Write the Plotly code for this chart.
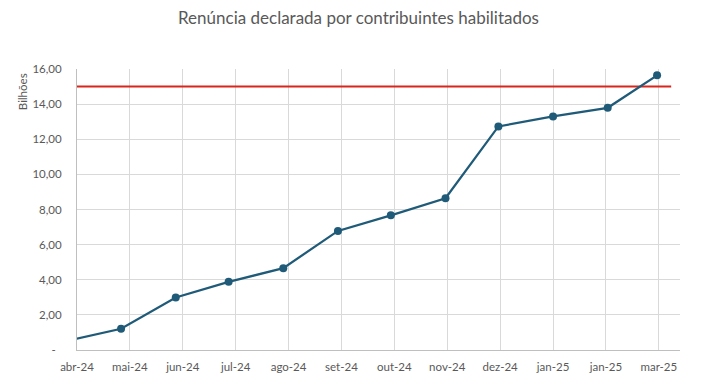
import datetime as dt
import plotly.graph_objects as go

# Data: month-end cumulative values (billions)
dates = ["2024-03-31", "2024-04-30", "2024-05-31", "2024-06-30", "2024-07-31",
         "2024-08-31", "2024-09-30", "2024-10-31", "2024-11-30", "2024-12-31",
         "2025-01-31", "2025-02-28"]
values = [0.53, 1.21, 2.99, 3.88, 4.66, 6.78, 7.67, 8.64, 12.73, 13.30, 13.79, 15.64]

limit_dates = ["2024-03-31", "2025-03-08"]
limit_values = [15.0, 15.0]

x_tick_labels = ["abr-24", "mai-24", "jun-24", "jul-24", "ago-24", "set-24",
                 "out-24", "nov-24", "dez-24", "jan-25", "jan-25", "mar-25"]
y_tick_vals = [0, 2, 4, 6, 8, 10, 12, 14, 16]
y_tick_labels = ["-  ", "2,00", "4,00", "6,00", "8,00", "10,00", "12,00", "14,00", "16,00"]

axis_start = dt.date(2024, 4, 5)
axis_end = dt.date(2025, 3, 13)
tick_step_days = 30
x_tick_vals = [(axis_start + dt.timedelta(days=tick_step_days * i)).isoformat()
               for i in range(len(x_tick_labels))]

FONT = "Lato"
GREY = "#595959"

fig = go.Figure()
fig.add_trace(go.Scatter(
    x=limit_dates, y=limit_values, mode="lines",
    line=dict(color="#D9261C", width=2), showlegend=False, hoverinfo="skip"))
fig.add_trace(go.Scatter(
    x=dates, y=values, mode="lines+markers",
    line=dict(color="#1F5B78", width=2.25),
    marker=dict(color="#1F5B78", size=8),
    showlegend=False))

# page body has an 8px default margin, so the figure is sized to fit 709x378 window
fig.update_layout(
    width=701, height=370,
    margin=dict(l=69, r=29, t=61, b=28, autoexpand=False),
    paper_bgcolor="white", plot_bgcolor="white",
    font=dict(family=FONT, color=GREY, size=11),
    title=dict(text="Renúncia declarada por contribuintes habilitados",
               x=0.5, xanchor="center", y=0.973, yanchor="middle",
               font=dict(family=FONT, size=17, color=GREY)),
    annotations=[dict(text="Bilhões", textangle=-90, xref="paper", yref="paper",
                      x=-0.091, xanchor="center", y=0.918, yanchor="middle",
                      showarrow=False, font=dict(family=FONT, size=11.5, color=GREY))],
)
fig.update_xaxes(
    type="date", range=[axis_start.isoformat(), axis_end.isoformat()],
    tickmode="array", tickvals=x_tick_vals, ticktext=x_tick_labels,
    showgrid=True, gridcolor="#D9D9D9", gridwidth=1,
    showline=True, linecolor="#BFBFBF", linewidth=1,
    ticks="", ticklabelstandoff=6, tickfont=dict(size=11.5, color=GREY),
    zeroline=False, automargin=False)
fig.update_yaxes(
    range=[0, 16], tickmode="array", tickvals=y_tick_vals, ticktext=y_tick_labels,
    showgrid=True, gridcolor="#D9D9D9", gridwidth=1,
    showline=True, linecolor="#BFBFBF", linewidth=1,
    ticks="", ticklabelstandoff=12, tickfont=dict(size=11.5, color=GREY),
    zeroline=False, automargin=False)

fig.write_html("out.html")
